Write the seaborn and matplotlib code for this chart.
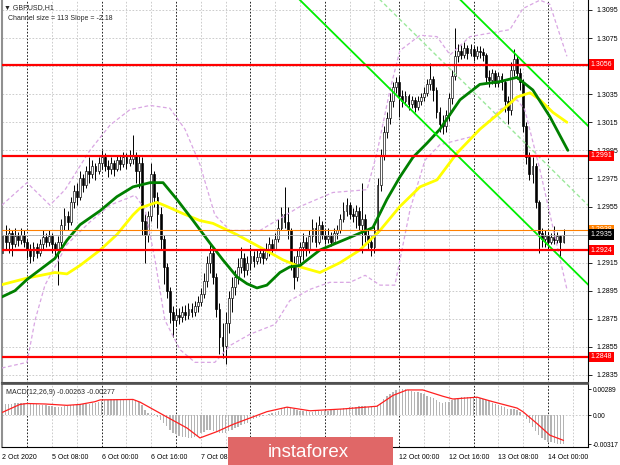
import numpy as np
import matplotlib
matplotlib.use("Agg")
import matplotlib.pyplot as plt
from matplotlib.patches import Rectangle
import seaborn as sns

# prices are stored as pips after "1.", e.g. 2935 -> 1.2935
FIRST_OPEN = 2922
CLOSE = [2935, 2930, 2936, 2928, 2934, 2931, 2935, 2930, 2924, 2920,
         2926, 2922, 2928, 2933, 2930, 2934, 2928, 2924, 2930, 2942,
         2948, 2944, 2958, 2966, 2962, 2975, 2970, 2980, 2978, 2984,
         2980, 2986, 2990, 2984, 2982, 2986, 2982, 2988, 2985, 2990,
         2986, 2989, 2992, 2980, 2986, 2945, 2935, 2948, 2978, 2962,
         2950, 2932, 2912, 2895, 2880, 2874, 2878, 2876, 2880, 2878,
         2882, 2880, 2884, 2887, 2893, 2902, 2915, 2922, 2905, 2882,
         2862, 2856, 2872, 2890, 2898, 2905, 2912, 2918, 2910, 2915,
         2920, 2916, 2919, 2922, 2918, 2924, 2928, 2925, 2932, 2940,
         2950, 2944, 2938, 2915, 2905, 2920, 2926, 2930, 2924, 2934,
         2940, 2930, 2942, 2935, 2932, 2934, 2930, 2936, 2938, 2946,
         2952, 2956, 2950, 2948, 2952, 2942, 2946, 2935, 2930, 2926,
         2938, 2970, 2992, 3008, 3018, 3030, 3040, 3044, 3034, 3030,
         3034, 3028, 3031, 3026, 3030, 3033, 3036, 3042, 3046, 3038,
         3022, 3014, 3012, 3020, 3032, 3048, 3062, 3066, 3063, 3068,
         3064, 3067, 3062, 3066, 3065, 3063, 3047, 3045, 3050, 3043,
         3048, 3044, 3030, 3024, 3052, 3060, 3050, 3044, 3012, 2990,
         2978, 2984, 2958, 2936, 2932, 2934, 2930, 2933, 2931, 2934,
         2930, 2935]
HIGH = [2942, 2942, 2940, 2938, 2940, 2937, 2940, 2938, 2932, 2928,
        2930, 2929, 2932, 2938, 2936, 2938, 2936, 2930, 2934, 2946,
        2954, 2952, 2962, 2970, 2972, 2980, 2978, 2984, 2990, 2988,
        2986, 2990, 2995, 2993, 2988, 2990, 2988, 2992, 2992, 2994,
        2993, 2995, 3006, 2994, 2992, 2990, 2950, 2952, 2986, 2980,
        2965, 2955, 2935, 2915, 2898, 2884, 2882, 2883, 2884, 2885,
        2886, 2886, 2888, 2891, 2897, 2908, 2920, 2929, 2925, 2908,
        2886, 2872, 2880, 2895, 2905, 2910, 2918, 2926, 2922, 2920,
        2926, 2923, 2924, 2927, 2925, 2929, 2933, 2932, 2936, 2946,
        2955, 2969, 2955, 2940, 2920, 2925, 2930, 2936, 2933, 2938,
        2946, 2944, 2948, 2945, 2938, 2940, 2937, 2940, 2942, 2950,
        2958, 2961, 2958, 2954, 2956, 2955, 2972, 2950, 2940, 2934,
        2942, 2975, 2996, 3012, 3022, 3036, 3044, 3047, 3048, 3038,
        3037, 3035, 3034, 3033, 3034, 3036, 3040, 3046, 3057, 3048,
        3040, 3026, 3020, 3024, 3036, 3052, 3082, 3071, 3070, 3072,
        3070, 3071, 3069, 3069, 3069, 3068, 3064, 3052, 3053, 3052,
        3051, 3050, 3046, 3034, 3058, 3067, 3062, 3054, 3046, 3015,
        2994, 2990, 2986, 2960, 2940, 2938, 2937, 2936, 2941, 2937,
        2935, 2939]
LOW = [2912, 2925, 2922, 2920, 2926, 2927, 2928, 2926, 2918, 2915,
       2916, 2918, 2920, 2925, 2926, 2927, 2922, 2918, 2899, 2926,
       2938, 2938, 2942, 2954, 2956, 2960, 2965, 2968, 2972, 2975,
       2974, 2978, 2982, 2980, 2976, 2978, 2977, 2980, 2981, 2983,
       2982, 2984, 2985, 2972, 2968, 2935, 2915, 2930, 2945, 2955,
       2940, 2925, 2900, 2890, 2872, 2862, 2870, 2871, 2873, 2874,
       2875, 2876, 2877, 2880, 2884, 2890, 2898, 2908, 2900, 2876,
       2850, 2847, 2843, 2865, 2880, 2892, 2900, 2908, 2905, 2906,
       2910, 2912, 2914, 2915, 2914, 2917, 2920, 2921, 2924, 2930,
       2938, 2940, 2932, 2910, 2896, 2902, 2915, 2917, 2920, 2922,
       2930, 2926, 2928, 2932, 2928, 2929, 2927, 2929, 2932, 2936,
       2944, 2948, 2946, 2944, 2940, 2938, 2922, 2930, 2924, 2920,
       2922, 2936, 2966, 2988, 3004, 3014, 3026, 3036, 3019, 3026,
       3027, 3024, 3025, 3022, 3024, 3027, 3030, 3034, 3038, 3030,
       3018, 3008, 3007, 3008, 3016, 3028, 3045, 3058, 3060, 3061,
       3060, 3062, 3059, 3060, 3061, 3059, 3044, 3040, 3042, 3040,
       3040, 3038, 3022, 3014, 3020, 3048, 3046, 3038, 3008, 2985,
       2974, 2972, 2954, 2922, 2926, 2926, 2925, 2928, 2928, 2929,
       2919, 2929]

# moving averages and bands: (bar index, pips)
GREEN_BAR = [-0.8, 4, 7.9, 12.1, 16.9, 20.8, 25, 31.5, 36.9, 42.1, 47.6, 51.8, 56.3,
             61.5, 66.9, 71.1, 75.6, 78.9, 82.1, 85.3, 89.5, 92.7, 96, 102.4, 112.1,
             119.5, 124, 128.2, 132.4, 136.9, 141.1, 147.6, 154, 160.5, 166, 171.1,
             176.6, 182.4]
GREEN_VAL = [2890, 2895, 2903, 2910, 2918, 2931, 2942, 2952, 2962, 2969, 2972, 2972, 2960,
             2945, 2929, 2917, 2905, 2900, 2897, 2899, 2908, 2912, 2913, 2924, 2933,
             2940, 2960, 2976, 2990, 3000, 3010, 3031, 3042, 3044, 3047, 3038,
             3019, 2995]
YELLOW_BAR = [-0.8, 7.9, 16.9, 20.8, 25, 31.5, 36.9, 42.1, 44.4, 49.8, 53.1, 58.2, 63.7,
              67.9, 75.6, 83.1, 90.5, 96, 102.4, 108.9, 115.3, 121.8, 128.2, 134.7,
              140.2, 146.6, 154, 160.5, 166, 170.2, 173.4, 177.6, 182.1]
YELLOW_VAL = [2899, 2904, 2908, 2907, 2913, 2924, 2935, 2949, 2954, 2958, 2955, 2950, 2945,
              2943, 2935, 2926, 2917, 2912, 2908, 2915, 2924, 2938, 2955, 2969,
              2974, 2993, 3010, 3022, 3033, 3036, 3031, 3022, 3015]
BB_UP_BAR = [-0.2, 7.9, 15.3, 20.2, 28.2, 34.7, 41.1, 47.6, 54, 58.9, 63.7, 68.5, 73.4,
             83.1, 96, 106.6, 117.6, 120.8, 125, 128.2, 134.7, 140.2, 144.4, 150.8,
             163.7, 167.9, 173.4, 176.6, 182.1]
BB_UP_VAL = [2956, 2972, 2956, 2967, 2995, 3013, 3024, 3027, 3025, 3010, 2985, 2949, 2938,
             2938, 2955, 2965, 2967, 2993, 3038, 3066, 3077, 3076, 3063, 3076,
             3081, 3096, 3102, 3099, 3062]
BB_LO_BAR = [-0.2, 7.9, 10.5, 13.7, 20.8, 28.2, 34.7, 42.7, 46, 49.2, 52.4, 57.3, 62.1,
             68.5, 73.4, 79.8, 87.9, 92.7, 99.2, 105.6, 112.1, 117, 121.8, 126.6,
             131.5, 136.3, 141.1, 151.8, 160.5, 166, 168.5, 173.4, 182.1]
BB_LO_VAL = [2840, 2844, 2874, 2899, 2928, 2944, 2956, 2963, 2953, 2917, 2874, 2853, 2844,
             2844, 2856, 2864, 2871, 2888, 2896, 2901, 2901, 2906, 2899, 2899,
             2953, 2988, 2999, 3005, 3024, 3031, 3024, 2981, 2896]

# MACD histogram (units of 0.00001) and signal line
MACD_HIST = [110, 120, 125, 130, 135, 135, 135, 132, 128, 125,
             122, 120, 118, 115, 112, 108, 100, 95, 92, 95,
             100, 105, 110, 115, 118, 120, 122, 125, 130, 135,
             140, 145, 155, 165, 172, 178, 180, 182, 180, 178,
             176, 175, 174, 165, 150, 110, 60, 30, 20, 10,
             -20, -50, -80, -120, -160, -190, -210, -225, -235, -245,
             -250, -248, -240, -225, -200, -180, -165, -160, -170, -185,
             -195, -195, -190, -175, -160, -140, -125, -110, -95, -80,
             -60, -45, -30, -15, -5, 5, 15, 25, 35, 50,
             70, 90, 95, 80, 65, 55, 50, 45, 42, 40,
             40, 42, 42, 45, 48, 52, 55, 58, 62, 70,
             78, 85, 90, 95, 95, 98, 100, 98, 95, 90,
             95, 110, 140, 175, 210, 240, 262, 278, 289, 288,
             285, 278, 270, 262, 252, 242, 230, 218, 205, 190,
             170, 150, 140, 142, 152, 168, 185, 195, 200, 205,
             205, 205, 202, 200, 195, 185, 170, 155, 140, 125,
             115, 105, 90, 75, 70, 70, 60, 40, 5, -40,
             -85, -125, -170, -215, -250, -275, -290, -300, -308, -313,
             -317, -315]
SIG_BAR = [-0.2, 5.6, 7.9, 13.7, 20.8, 25, 29.8, 31.5, 42.1, 44.4, 53.1, 59.5, 63.7,
           69.2, 74.4, 85.3, 91.8, 99.2, 109.8, 120.8, 126, 130.5, 135.6, 142.1,
           145.3, 153.1, 158.2, 166, 167.9, 172.4, 176.6, 181]
SIG_VAL = [30, 120, 130, 125, 110, 120, 150, 170, 175, 145, -20, -140, -250,
           -180, -100, 40, 90, 50, 70, 100, 220, 280, 280, 210,
           180, 200, 150, 80, 40, -90, -220, -277]

LEVELS = [3056, 2991, 2924, 2848]
ORANGE_LEVEL = 2938
BID = 2935
PRICE_TICKS = [2835, 2855, 2875, 2895, 2915, 2935, 2955, 2975, 2995, 3015, 3035, 3055, 3075, 3095]
HIDDEN_TICKS = [2935, 3055]  # sit under the price boxes
CH_BAR0, CH_LOW0, CH_SLOPE, CH_SIZE = 96, 3102, -2.18, 113
TIME_BARS = [0, 16, 32, 48, 64, 80, 96, 112, 128, 144, 160, 176]
TIME_LABELS = ["2 Oct 2020", "5 Oct 08:00", "6 Oct 00:00", "6 Oct 16:00", "7 Oct 08:00",
               "", "", "", "12 Oct 00:00", "12 Oct 16:00",
               "13 Oct 08:00", "14 Oct 00:00"]
MACD_TICKS = [0.00289, 0.0, -0.00317]
MACD_TICK_LABELS = ["0.00289", "0.00", "-0.00317"]


def px(v):
    return 1 + np.asarray(v, dtype=float) / 1e4


sns.set_style("white")
plt.rcParams["font.family"] = ["Liberation Sans", "DejaVu Sans"]

W, H = 620, 465
fig = plt.figure(figsize=(W / 100, H / 100), dpi=100, facecolor="white")
ax = fig.add_axes([2 / W, (H - 383) / H, 586 / W, 383 / H])
axm = fig.add_axes([2 / W, 18 / H, 586 / W, 63 / H])

XLIM = (-0.16, 188.9)
bars = np.arange(len(CLOSE))
close = px(CLOSE)
opn = np.r_[px(FIRST_OPEN), close[:-1]]
high = np.maximum(px(HIGH), np.maximum(opn, close))
low = np.minimum(px(LOW), np.minimum(opn, close))

# grid
for a in (ax, axm):
    for b in range(0, 190, 8):
        sep = (b - 8) % 24 == 0
        a.axvline(b, color="black" if sep else "#c4c4c4", lw=0.6,
                  ls=(0, (2, 2)), zorder=0)
for t in PRICE_TICKS:
    ax.axhline(px(t), color="#c4c4c4", lw=0.6, ls=(0, (2, 2)), zorder=0)
axm.axhline(0, color="#c4c4c4", lw=0.6, ls=(0, (2, 2)), zorder=0)

# candles
ax.vlines(bars, low, high, color="black", lw=0.7, zorder=2)
up = close >= opn
body = np.where(np.abs(close - opn) < 0.00003, 0.00003, close - opn)
ax.bar(bars, body, bottom=opn, width=0.6, color=np.where(up, "white", "black"),
       edgecolor="black", linewidth=0.45, zorder=3)

# bands and moving averages
for bb, vv in ((BB_UP_BAR, BB_UP_VAL), (BB_LO_BAR, BB_LO_VAL)):
    sns.lineplot(x=bb, y=px(vv), ax=ax, color="#d9a6e3", lw=0.9, sort=False,
                 estimator=None, linestyle=(0, (3, 2)), zorder=4)
sns.lineplot(x=YELLOW_BAR, y=px(YELLOW_VAL), ax=ax, color="#ffff00", lw=2.0,
             sort=False, estimator=None, zorder=5)
sns.lineplot(x=GREEN_BAR, y=px(GREEN_VAL), ax=ax, color="#008000", lw=2.0,
             sort=False, estimator=None, zorder=5)

# regression channel
cb = np.array([80, 190])
lower = CH_LOW0 + CH_SLOPE * (cb - CH_BAR0)
ax.plot(cb, px(lower), color="#00ee00", lw=1.3, zorder=6)
ax.plot(cb, px(lower + CH_SIZE), color="#00ee00", lw=1.3, zorder=6)
ax.plot(cb, px(lower + CH_SIZE / 2), color="#9be89b", lw=1.0, ls=(0, (3, 2)), zorder=6)

# horizontal levels
ax.axhline(px(BID), color="#b0b0b0", lw=0.6, zorder=6)
ax.axhline(px(ORANGE_LEVEL), color="#ff8000", lw=0.8, zorder=6)
for lv in LEVELS:
    ax.axhline(px(lv), color="#ff0000", lw=1.6, zorder=7)

ax.set_xlim(*XLIM)
ax.set_ylim(1.28293, 1.31021)
ax.set_xticks([])
ax.yaxis.tick_right()
ax.set_yticks(px(PRICE_TICKS))
ax.set_yticklabels(["" if t in HIDDEN_TICKS else f"1.{t:04d}" for t in PRICE_TICKS])
ax.tick_params(axis="y", length=3, width=0.6, labelsize=5, pad=3, colors="black")
ax.set_xlabel("")
ax.set_ylabel("")
ax.spines["top"].set_visible(False)
ax.spines["left"].set_color("#909090")
ax.spines["left"].set_linewidth(1.5)
ax.spines["right"].set_color("black")
ax.spines["right"].set_linewidth(0.8)
ax.spines["bottom"].set_color("#505050")
ax.spines["bottom"].set_linewidth(1.5)

# price boxes on the scale
ytr = ax.get_yaxis_transform()
box = dict(boxstyle="square,pad=0.25", ec="none")
ax.text(1.004, px(ORANGE_LEVEL) + 0.00004, "1.2938", transform=ytr, fontsize=5, color="white",
        va="center", ha="left", bbox=dict(box, fc="#ff8000"), zorder=10, clip_on=False)
ax.text(1.004, px(BID), "1.2935", transform=ytr, fontsize=5, color="white",
        va="center", ha="left", bbox=dict(box, fc="black"), zorder=11, clip_on=False)
for lv in LEVELS:
    ax.text(1.004, px(lv), f"1.{lv:04d}", transform=ytr, fontsize=5, color="white",
            va="center", ha="left", bbox=dict(box, fc="#ff0000"), zorder=11, clip_on=False)

ax.text(0.004, 0.979, "\u25bc GBPUSD,H1", transform=ax.transAxes, fontsize=5, va="center")
ax.text(0.010, 0.953, "Channel size = 113 Slope = -2.18", transform=ax.transAxes,
        fontsize=5, va="center")

# MACD panel
axm.bar(bars, np.asarray(MACD_HIST) * 1e-5, width=0.45, color="#b4b4b4", lw=0, zorder=2)
sns.lineplot(x=SIG_BAR, y=np.asarray(SIG_VAL) * 1e-5, ax=axm, color="#ff2020", lw=0.9,
             sort=False, estimator=None, zorder=3)
axm.set_xlim(*XLIM)
axm.set_ylim(-0.003501, 0.003456)
axm.yaxis.tick_right()
axm.set_yticks(MACD_TICKS)
axm.set_yticklabels(MACD_TICK_LABELS)
axm.tick_params(axis="y", length=2, width=0.6, labelsize=4.8, pad=1.5, colors="black")
axm.set_xticks(TIME_BARS)
axm.set_xticklabels(TIME_LABELS, ha="left")
axm.tick_params(axis="x", length=3, width=0.6, labelsize=5, pad=2, colors="black")
axm.set_xlabel("")
axm.set_ylabel("")
axm.spines["top"].set_color("#505050")
axm.spines["top"].set_linewidth(1.2)
axm.spines["left"].set_color("#909090")
axm.spines["left"].set_linewidth(1.5)
axm.spines["right"].set_color("black")
axm.spines["right"].set_linewidth(0.8)
axm.spines["bottom"].set_color("black")
axm.spines["bottom"].set_linewidth(0.8)
axm.text(0.006, 0.86, "MACD(12,26,9) -0.00263 -0.00277", transform=axm.transAxes,
         fontsize=5, va="center")

# watermark
fig.add_artist(Rectangle((228 / W, 0), 165 / W, 28 / H, transform=fig.transFigure,
                         fc="#e06767", ec="none", zorder=20))
fig.text(268 / W, 13 / H, "instaforex", color="white", fontsize=13.5, va="center",
         ha="left", family=["Liberation Sans"], zorder=21)

fig.savefig("out.png", dpi=100, facecolor="white")
